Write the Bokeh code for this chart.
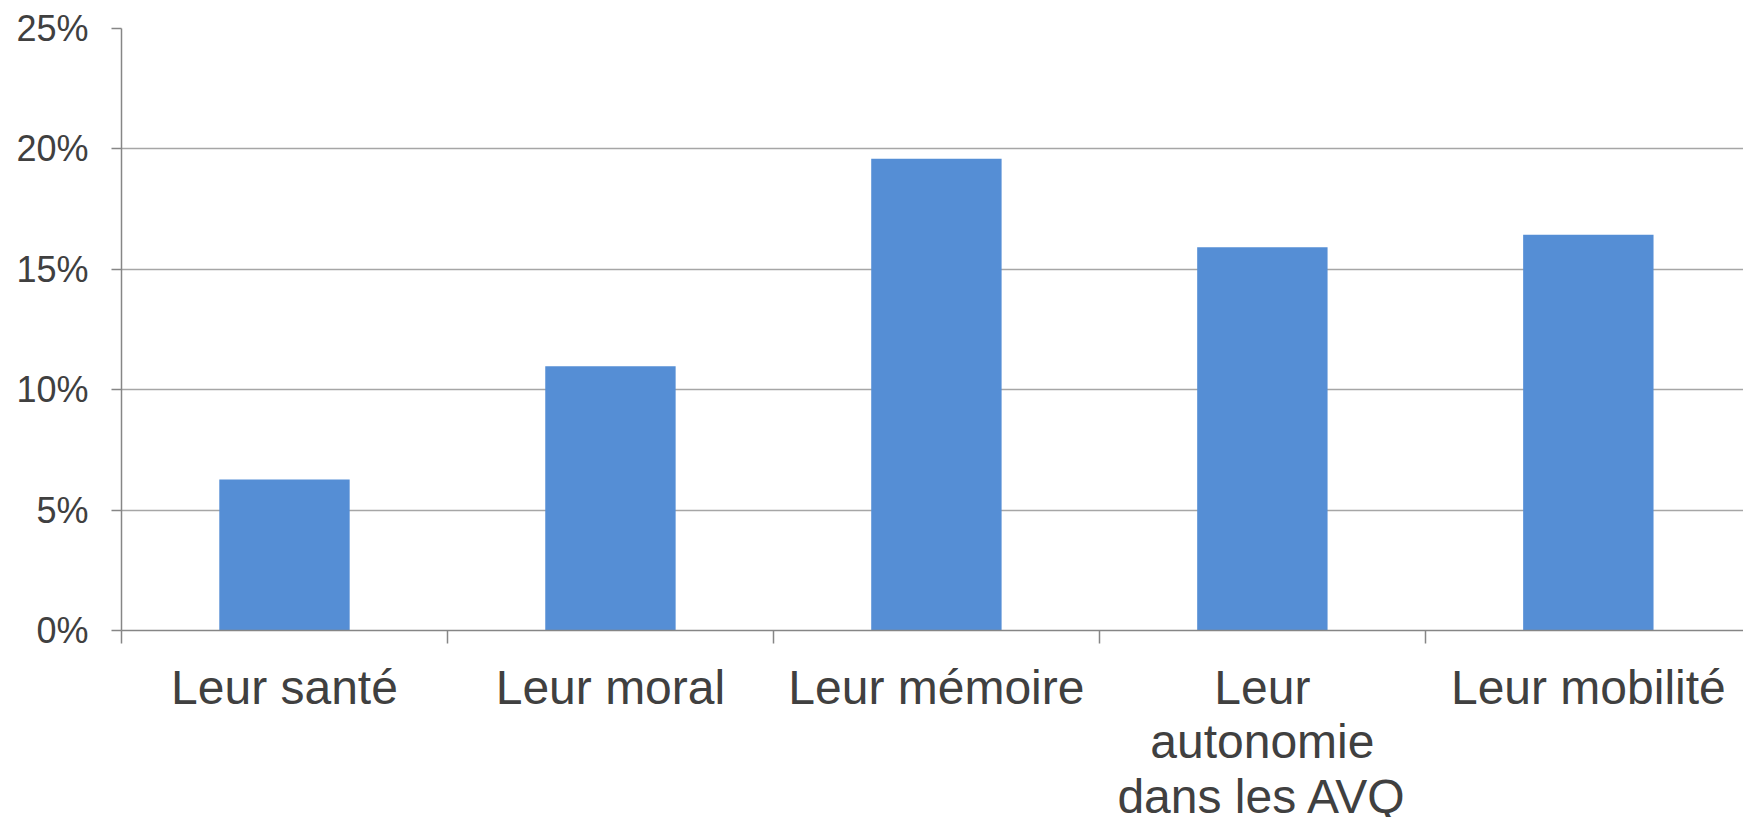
from bokeh.plotting import figure
from bokeh.layouts import column
from bokeh.models import Range1d, FixedTicker, PrintfTickFormatter, ColumnDataSource
from bokeh.core.properties import value
from bokeh.embed import file_html
from bokeh.resources import INLINE

categories = ["Leur santé", "Leur moral", "Leur mémoire", "Leur\nautonomie\ndans les AVQ", "Leur mobilité"]
values = [6.27, 10.97, 19.59, 15.92, 16.43]
y_ticks = [0, 5, 10, 15, 20, 25]

centers = [i + 0.5 for i in range(len(categories))]
bounds = [float(i) for i in range(len(categories))]

src = ColumnDataSource(dict(x=centers, top=values, label=categories))

xr = Range1d(0, 4.976)
p = figure(width=1743, frame_width=1622, frame_height=602, output_backend="svg", toolbar_location=None,
           x_range=xr, y_range=Range1d(0, 25),
           min_border_left=121, min_border_right=0, min_border_top=28, min_border_bottom=20)
p.outline_line_color = None
p.background_fill_color = "white"
p.border_fill_color = "white"

p.vbar(x="x", top="top", width=0.4, bottom=0, source=src, fill_color="#558ed5", line_color=None)

# y axis
p.yaxis.ticker = FixedTicker(ticks=y_ticks)
p.yaxis.formatter = PrintfTickFormatter(format="%d%%")
p.yaxis.axis_line_color = "#868686"
p.yaxis.axis_line_width = 1.5
p.yaxis.major_tick_line_color = "#868686"
p.yaxis.major_tick_line_width = 1.5
p.yaxis.major_tick_out = 10
p.yaxis.major_tick_in = 0
p.yaxis.minor_tick_line_color = None
p.yaxis.major_label_standoff = 23
p.yaxis.major_label_text_font = "Liberation Sans"
p.yaxis.major_label_text_font_size = "36px"
p.yaxis.major_label_text_color = "#404040"

# x axis: only boundary ticks
p.xaxis.ticker = FixedTicker(ticks=[], minor_ticks=bounds)
p.xaxis.major_label_standoff = 0
p.xaxis.axis_line_color = "#868686"
p.xaxis.axis_line_width = 1.5
p.xaxis.major_tick_out = 0
p.xaxis.major_tick_in = 0
p.xaxis.major_tick_line_color = None
p.xaxis.minor_tick_line_color = "#868686"
p.xaxis.minor_tick_line_width = 1.5
p.xaxis.minor_tick_out = 13
p.xaxis.minor_tick_in = 0

p.xgrid.grid_line_color = None
p.ygrid.ticker = FixedTicker(ticks=y_ticks)
p.ygrid.grid_line_color = "#a6a6a6"
p.ygrid.grid_line_width = 1.5

# category labels in a strip below
strip_h = 817 - (28 + 602 + 20)
p2 = figure(width=1743, frame_width=1622, frame_height=strip_h, output_backend="svg", toolbar_location=None,
            x_range=xr, y_range=Range1d(0, strip_h),
            min_border_left=121, min_border_right=0, min_border_top=0, min_border_bottom=0)
p2.outline_line_color = None
p2.axis.visible = False
p2.grid.grid_line_color = None
p2.border_fill_color = "white"
src2 = ColumnDataSource(dict(x=centers, y=[strip_h] * len(centers), label=categories))
p2.text(x="x", y="y", text="label", source=src2, y_offset=10,
        text_align="center", text_baseline="top",
        text_font=value("Liberation Sans"), text_font_size="48px",
        text_line_height=1.03, text_color="#404040")

layout = column(p, p2, spacing=0)
open("out.html", "w").write(file_html(layout, INLINE))
